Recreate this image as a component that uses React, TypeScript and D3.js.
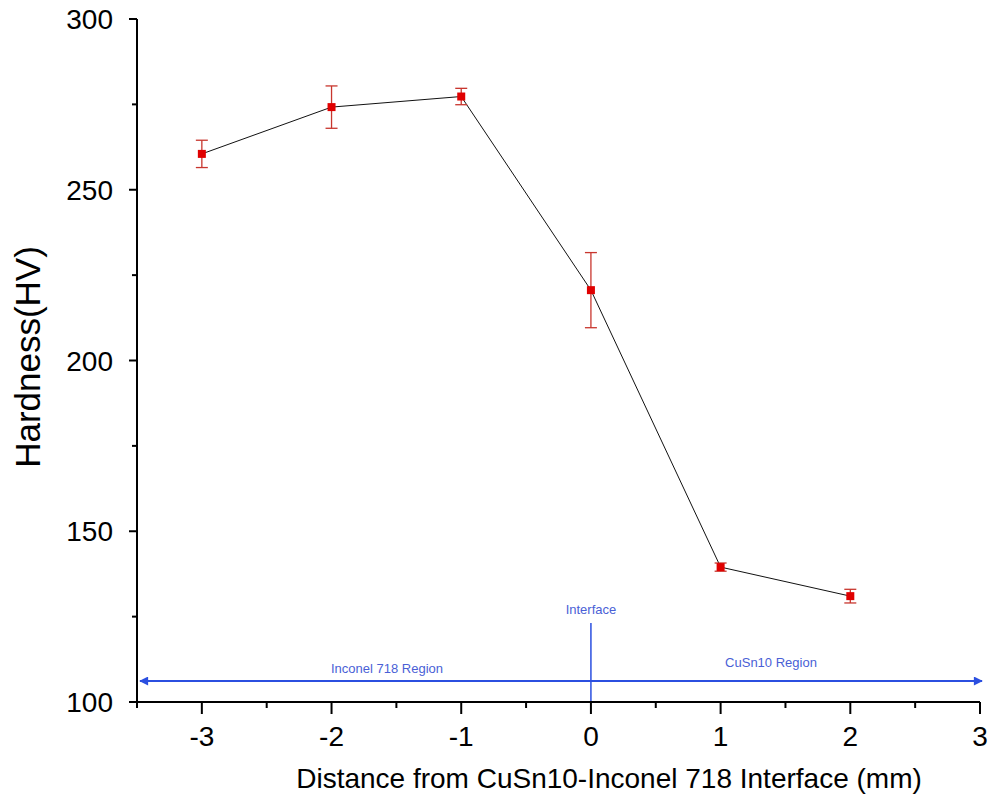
import React from "react";
import * as d3 from "d3";

const distances = [-3, -2, -1, 0, 1, 2];
const hardness = [260.5, 274.2, 277.3, 220.6, 139.5, 131];
const errors = [4.0, 6.2, 2.4, 11.0, 1.2, 2.0];
const xTicks = [-3, -2, -1, 0, 1, 2, 3];
const yTicks = [100, 150, 200, 250, 300];
const yMinorTicks = [125, 175, 225, 275];
const xMinorTicks = [-3.5, -2.5, -1.5, -0.5, 0.5, 1.5, 2.5];

const W = 990, H = 796;
const left = 137, right = 980, top = 19, bottom = 702;
const FONT = "'Liberation Sans', Arial, sans-serif";

export default function App() {
  const x = d3.scaleLinear().domain([-3.5, 3]).range([left, right]);
  const y = d3.scaleLinear().domain([100, 300]).range([bottom, top]);
  const line = d3.line<number>().x((_, i) => x(distances[i])).y((d) => y(d));
  const blue = "#2b4fe0";
  const blueText = "#4a5fd6";
  const arrowY = 681;
  return (
    <svg width={W} height={H} style={{ position: "absolute", left: 0, top: 0, background: "#fff" }}>
      <defs>
        <marker id="ah" viewBox="0 0 10 10" refX="9" refY="5" markerWidth="11" markerHeight="9" markerUnits="userSpaceOnUse" orient="auto-start-reverse">
          <path d="M0,0 L10,5 L0,10 z" fill={blue} />
        </marker>
      </defs>
      {/* region annotations */}
      <line x1={140} x2={982} y1={arrowY} y2={arrowY} stroke={blue} strokeWidth={2}
        markerStart="url(#ah)" markerEnd="url(#ah)" />
      <line x1={x(0)} x2={x(0)} y1={623} y2={bottom} stroke={blue} strokeWidth={1.5} />
      <text x={x(0)} y={614} textAnchor="middle" fontFamily={FONT} fontSize={13} fill={blueText}>Interface</text>
      <text x={387} y={673} textAnchor="middle" fontFamily={FONT} fontSize={13} fill={blueText}>Inconel 718 Region</text>
      <text x={771} y={667} textAnchor="middle" fontFamily={FONT} fontSize={13} fill={blueText}>CuSn10 Region</text>

      {/* axes */}
      <line x1={left} x2={left} y1={top} y2={bottom} stroke="#000" strokeWidth={2} />
      <line x1={left} x2={right} y1={bottom} y2={bottom} stroke="#000" strokeWidth={2} />
      {yTicks.map((t) => (
        <g key={"yt" + t}>
          <line x1={left - 8} x2={left} y1={y(t)} y2={y(t)} stroke="#000" strokeWidth={2} />
          <text x={113} y={y(t) + 10} textAnchor="end" fontFamily={FONT} fontSize={28} fill="#000">{t}</text>
        </g>
      ))}
      {yMinorTicks.map((t) => (
        <line key={"ym" + t} x1={left - 5} x2={left} y1={y(t)} y2={y(t)} stroke="#000" strokeWidth={2} />
      ))}
      {xTicks.map((t) => (
        <g key={"xt" + t}>
          <line x1={x(t)} x2={x(t)} y1={bottom} y2={bottom + 12} stroke="#000" strokeWidth={2} />
          <text x={x(t)} y={746} textAnchor="middle" fontFamily={FONT} fontSize={28} fill="#000">{t}</text>
        </g>
      ))}
      {xMinorTicks.map((t) => (
        <line key={"xm" + t} x1={x(t)} x2={x(t)} y1={bottom} y2={bottom + 6} stroke="#000" strokeWidth={2} />
      ))}
      <text x={609} y={788} textAnchor="middle" fontFamily={FONT} fontSize={28} fill="#000">Distance from CuSn10-Inconel 718 Interface (mm)</text>
      <text transform={`translate(40,357) rotate(-90)`} textAnchor="middle" fontFamily={FONT} fontSize={35} fill="#000">Hardness(HV)</text>

      {/* data */}
      <path d={line(hardness) || ""} fill="none" stroke="#111" strokeWidth={1} />
      {hardness.map((h, i) => {
        const cx = x(distances[i]);
        const e = errors[i];
        return (
          <g key={"p" + i}>
            <line x1={cx} x2={cx} y1={y(h + e)} y2={y(h - e)} stroke="#c8362e" strokeWidth={1.3} />
            <line x1={cx - 6} x2={cx + 6} y1={y(h + e)} y2={y(h + e)} stroke="#c8362e" strokeWidth={1.3} />
            <line x1={cx - 6} x2={cx + 6} y1={y(h - e)} y2={y(h - e)} stroke="#c8362e" strokeWidth={1.3} />
            <rect x={cx - 4} y={y(h) - 4} width={8} height={8} fill="#e00000" />
          </g>
        );
      })}
    </svg>
  );
}
